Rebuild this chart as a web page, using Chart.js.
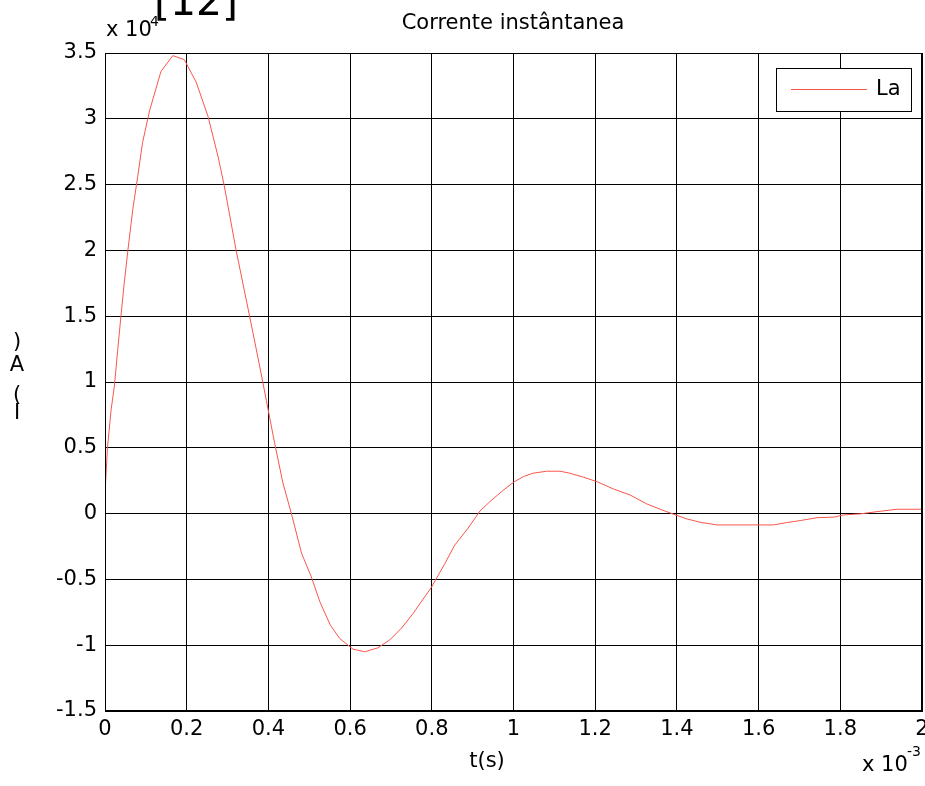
<!DOCTYPE html>
<html>
<head>
<meta charset="utf-8">
<title>Corrente instântanea</title>
<script src="https://cdn.jsdelivr.net/npm/chart.js@4"></script>
<style>
  html, body { margin: 0; padding: 0; background: #fff; overflow: hidden; }
  canvas { display: block; }
</style>
</head>
<body>
<canvas id="grafico" width="925" height="786"></canvas>
<script>
// tempo em ms (eixo x em "x 10^-3")
const tempo = [
  0, 0.006, 0.015, 0.023, 0.031, 0.039, 0.047, 0.056, 0.068, 0.080,
  0.092, 0.109, 0.137, 0.166, 0.194, 0.223, 0.252, 0.277, 0.292, 0.321,
  0.354, 0.378, 0.395, 0.415, 0.435, 0.458, 0.481, 0.505, 0.526, 0.552,
  0.575, 0.607, 0.636, 0.668, 0.697, 0.726, 0.754, 0.799, 0.832, 0.856,
  0.889, 0.918, 0.942, 0.970, 0.999, 1.024, 1.048, 1.081, 1.114, 1.138,
  1.171, 1.204, 1.244, 1.285, 1.326, 1.359, 1.392, 1.424, 1.457, 1.498,
  1.540, 1.588, 1.637, 1.669, 1.702, 1.743, 1.784, 1.808, 1.849, 1.890,
  1.939, 2.0
];

// corrente em 10^4 A
const correnteLa = [
  0.15, 0.50, 0.79, 0.97, 1.24, 1.50, 1.75, 2.00, 2.31, 2.56,
  2.82, 3.06, 3.36, 3.48, 3.45, 3.28, 3.02, 2.71, 2.49, 2.00,
  1.50, 1.13, 0.86, 0.54, 0.24, -0.02, -0.30, -0.48, -0.67, -0.85,
  -0.95, -1.03, -1.05, -1.02, -0.96, -0.87, -0.76, -0.56, -0.38, -0.24,
  -0.11, 0.02, 0.09, 0.165, 0.236, 0.281, 0.307, 0.322, 0.322, 0.307,
  0.277, 0.243, 0.188, 0.142, 0.074, 0.033, -0.005, -0.040, -0.066, -0.086,
  -0.086, -0.086, -0.086, -0.068, -0.053, -0.031, -0.027, -0.010, -0.002, 0.015,
  0.033, 0.033
];

const nomeSerie = 'La';
const tituloGrafico = 'Corrente instântanea';
const tituloX = 't(s)';
const tituloY = ['I', '(', 'A', ')'];
const ticksX = [0, 0.2, 0.4, 0.6, 0.8, 1, 1.2, 1.4, 1.6, 1.8, 2];
const ticksY = [-1.5, -1, -0.5, 0, 0.5, 1, 1.5, 2, 2.5, 3, 3.5];

const fonte = '"DejaVu Sans", Verdana, sans-serif';
const corLinha = 'rgb(250, 85, 75)';

// Funcao para formatar os numeros dos eixos
function formatar(v) {
  return String(parseFloat(Number(v).toFixed(2)));
}

// Plugin para os textos extras e a legenda
const textos = {
  id: 'textos',
  afterDraw(chart) {
    const ctx = chart.ctx;
    ctx.save();
    ctx.fillStyle = '#000';
    ctx.textBaseline = 'middle';

    // titulo
    ctx.font = '21px ' + fonte;
    ctx.textAlign = 'center';
    ctx.fillText(tituloGrafico, 513, 24);

    // eixo x
    ctx.fillText(tituloX, 487, 762);

    // eixo y (letras empilhadas)
    const posY = [414, 396, 366, 343];
    tituloY.forEach((c, i) => ctx.fillText(c, 17, posY[i]));

    // multiplicadores
    ctx.textAlign = 'left';
    ctx.fillText('x 10', 106, 31);
    ctx.font = '14px ' + fonte;
    ctx.fillText('4', 150, 22);
    ctx.font = '21px ' + fonte;
    ctx.fillText('x 10', 862, 766);
    ctx.font = '14px ' + fonte;
    ctx.fillText('-3', 907, 752);

    // [12]
    ctx.font = '41px ' + fonte;
    ctx.textAlign = 'center';
    ctx.textBaseline = 'alphabetic';
    ctx.fillText('[12]', 196, 15);

    // legenda
    ctx.fillStyle = '#fff';
    ctx.fillRect(776, 68, 136, 44);
    ctx.strokeStyle = '#000';
    ctx.lineWidth = 1;
    ctx.strokeRect(776.5, 68.5, 135, 43);
    ctx.strokeStyle = corLinha;
    ctx.beginPath();
    ctx.moveTo(791, 89.5);
    ctx.lineTo(867, 89.5);
    ctx.stroke();
    ctx.fillStyle = '#000';
    ctx.font = '21px ' + fonte;
    ctx.textAlign = 'left';
    ctx.textBaseline = 'middle';
    ctx.fillText(nomeSerie, 876, 90);
    ctx.restore();
  }
};

const pontos = tempo.map((t, i) => ({ x: t, y: correnteLa[i] }));

new Chart(document.getElementById('grafico'), {
  type: 'line',
  data: {
    datasets: [{
      label: nomeSerie,
      data: pontos,
      borderColor: corLinha,
      borderWidth: 1,
      pointRadius: 0,
      tension: 0,
      fill: false
    }]
  },
  options: {
    responsive: false,
    animation: false,
    devicePixelRatio: 1,
    layout: { autoPadding: false, padding: { left: 0, right: 3, top: 53, bottom: 0 } },
    plugins: {
      legend: { display: false },
      title: { display: false },
      tooltip: { enabled: false }
    },
    scales: {
      x: {
        type: 'linear',
        min: 0,
        max: 2,
        afterFit: s => { s.height = 75; s.paddingLeft = 0; s.paddingRight = 0; },
        afterBuildTicks: s => { s.ticks = ticksX.map(v => ({ value: v })); },
        ticks: {
          autoSkip: false,
          maxRotation: 0,
          padding: 6,
          color: '#000',
          font: { family: fonte, size: 21 },
          callback: formatar
        },
        grid: { color: '#000', lineWidth: 1, drawTicks: false },
        border: { display: true, color: '#000', width: 1 }
      },
      y: {
        type: 'linear',
        min: -1.5,
        max: 3.5,
        afterFit: s => { s.width = 105; s.paddingTop = 0; s.paddingBottom = 0; },
        afterBuildTicks: s => { s.ticks = ticksY.map(v => ({ value: v })); },
        ticks: {
          autoSkip: false,
          padding: 8,
          color: '#000',
          font: { family: fonte, size: 21 },
          callback: formatar
        },
        grid: { color: '#000', lineWidth: 1, drawTicks: false },
        border: { display: true, color: '#000', width: 1 }
      }
    }
  },
  plugins: [textos, {
    id: 'moldura',
    afterDatasetsDraw(chart) {
      const a = chart.chartArea;
      const ctx = chart.ctx;
      ctx.save();
      ctx.strokeStyle = '#000';
      ctx.lineWidth = 1;
      ctx.strokeRect(Math.round(a.left) + 0.5, Math.round(a.top) + 0.5, Math.round(a.right - a.left) - 1, Math.round(a.bottom - a.top) - 1);
      ctx.restore();
    }
  }]
});
</script>
</body>
</html>
